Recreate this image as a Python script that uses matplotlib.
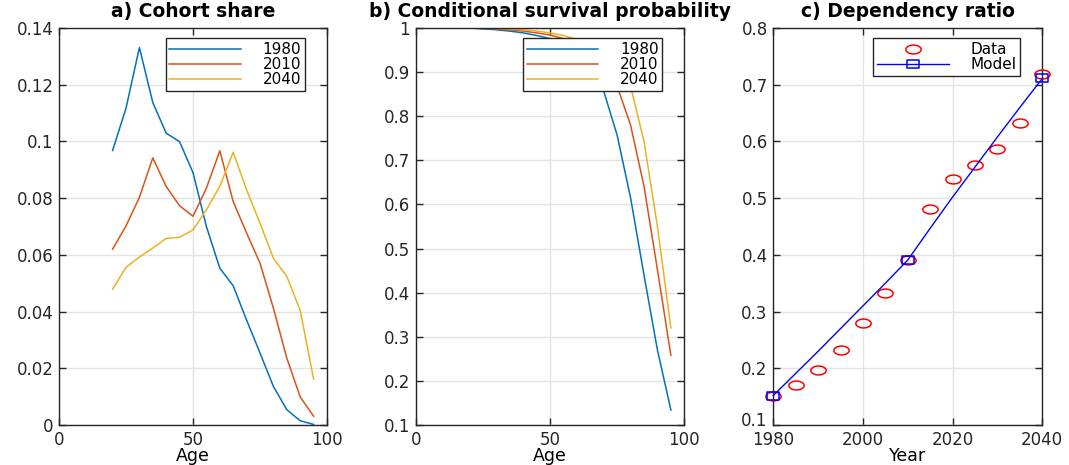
import numpy as np
import matplotlib
matplotlib.use("Agg")
import matplotlib.pyplot as plt
from matplotlib.path import Path
from matplotlib.transforms import ScaledTranslation


# ---------------------------------------------------------
#  Data
# ---------------------------------------------------------
ages = [20, 25, 30, 35, 40, 45, 50, 55, 60, 65, 70, 75, 80, 85, 90, 95]
cohort_labels = ["1980", "2010", "2040"]

share_1980 = [0.0968, 0.1117, 0.1331, 0.1137, 0.1029, 0.0999, 0.0890, 0.0700,
              0.0553, 0.0491, 0.0370, 0.0254, 0.0136, 0.0054, 0.0015, 0.0002]
share_2010 = [0.0620, 0.0702, 0.0803, 0.0942, 0.0841, 0.0773, 0.0736, 0.0835,
              0.0967, 0.0788, 0.0677, 0.0571, 0.0412, 0.0236, 0.0099, 0.0031]
share_2040 = [0.0479, 0.0556, 0.0592, 0.0624, 0.0658, 0.0662, 0.0688, 0.0759,
              0.0841, 0.0962, 0.0829, 0.0712, 0.0588, 0.0524, 0.0404, 0.0162]

surv_1980 = [1.000, 0.998, 0.996, 0.993, 0.989, 0.983, 0.976, 0.965,
             0.945, 0.910, 0.857, 0.757, 0.615, 0.440, 0.270, 0.134]
surv_2010 = [1.000, 0.999, 0.998, 0.996, 0.993, 0.989, 0.984, 0.976,
             0.963, 0.943, 0.910, 0.868, 0.780, 0.641, 0.452, 0.258]
surv_2040 = [1.000, 1.000, 0.999, 0.998, 0.996, 0.993, 0.989, 0.983,
             0.974, 0.960, 0.940, 0.910, 0.868, 0.743, 0.550, 0.320]

years = [1980, 1985, 1990, 1995, 2000, 2005, 2010, 2015, 2020, 2025, 2030, 2035, 2040]
dep_data = [0.152, 0.170, 0.197, 0.233, 0.280, 0.333, 0.391, 0.480, 0.533,
            0.559, 0.587, 0.633, 0.719]
dep_model = [0.152, 0.191, 0.230, 0.270, 0.310, 0.350, 0.391, 0.447, 0.502,
             0.555, 0.608, 0.660, 0.711]
model_marker_years = [1980, 2010, 2040]

# MATLAB default colour order
colors = ["#0072BD", "#D95319", "#EDB120"]

plt.rcParams["font.family"] = ["DejaVu Sans"]
plt.rcParams["font.size"] = 12


# squashed markers (the reference is stretched horizontally)
t = np.linspace(0, 2 * np.pi, 60)
ellipse = Path(np.column_stack([np.cos(t), 0.58 * np.sin(t)]), closed=True)
rect = Path([(-1, -0.6), (1, -0.6), (1, 0.6), (-1, 0.6), (-1, -0.6)], closed=True)


def matlab_axes(ax):
    ax.grid(True, color="#e3e3e3", linewidth=1.0)
    ax.set_axisbelow(True)
    ax.tick_params(direction="in", length=5, width=1, top=True, right=True,
                   colors="#262626", labelcolor="#262626", labelsize=12, pad=4)
    for s in ax.spines.values():
        s.set_color("#262626")
        s.set_linewidth(1.0)


def fmt_ticks(ax, yt):
    ax.set_yticks(yt)
    ax.set_yticklabels(["%g" % v for v in yt])


fig = plt.figure(figsize=(10.69, 4.65), dpi=100)
W, H = 1069.0, 465.0
bottom = (H - 425) / H
height = 397 / H
ax1 = fig.add_axes([59 / W, bottom, 268 / W, height])
ax2 = fig.add_axes([415.7 / W, bottom, 268.6 / W, height])
ax3 = fig.add_axes([773.3 / W, bottom, 269 / W, height])

leg_kw = dict(fancybox=False, edgecolor="#262626", framealpha=1.0,
              borderaxespad=0, fontsize=11, handlelength=4.7,
              borderpad=0.25, labelspacing=0.0, handletextpad=1.4)
title_kw = dict(fontsize=13.5, fontweight="bold", pad=8)
xlab_kw = dict(fontsize=12.5, labelpad=-1)

# a) Cohort share
for ser, c, lab in zip([share_1980, share_2010, share_2040], colors, cohort_labels):
    ax1.plot(ages, ser, color=c, linewidth=1.1, label=lab)
ax1.set_xlim(0, 100)
ax1.set_ylim(0, 0.14)
ax1.set_xticks([0, 50, 100])
fmt_ticks(ax1, np.round(np.arange(0, 0.141, 0.02), 2))
ax1.set_xlabel("Age", **xlab_kw)
ax1.set_title("a) Cohort share", **title_kw)
matlab_axes(ax1)
lg = ax1.legend(loc="upper right", bbox_to_anchor=(0.918, 0.974), **leg_kw)
lg.get_frame().set_linewidth(1.0)

# b) Conditional survival probability
for ser, c, lab in zip([surv_1980, surv_2010, surv_2040], colors, cohort_labels):
    ax2.plot(ages, ser, color=c, linewidth=1.1, label=lab)
ax2.set_xlim(0, 100)
ax2.set_ylim(0.1, 1)
ax2.set_xticks([0, 50, 100])
fmt_ticks(ax2, np.round(np.arange(0.1, 1.01, 0.1), 1))
ax2.set_xlabel("Age", **xlab_kw)
ax2.set_title("b) Conditional survival probability", **title_kw)
matlab_axes(ax2)
lg = ax2.legend(loc="upper right", bbox_to_anchor=(0.918, 0.974), **leg_kw)
lg.get_frame().set_linewidth(1.0)

# c) Dependency ratio
ax3.plot(years, dep_data, linestyle="none", marker=ellipse, markersize=11,
         markerfacecolor="none", markeredgecolor="red", markeredgewidth=1.1,
         label="Data", clip_on=False, zorder=3)
mk_idx = [years.index(y) for y in model_marker_years]
ax3.plot(years, dep_model, color="blue", linewidth=1.0, marker=rect,
         markersize=8.5, markevery=mk_idx, markerfacecolor="none",
         markeredgecolor="blue", markeredgewidth=1.1, label="Model",
         clip_on=False, zorder=4)
ax3.set_xlim(1980, 2040)
ax3.set_ylim(0.1, 0.8)
ax3.set_xticks([1980, 2000, 2020, 2040])
fmt_ticks(ax3, np.round(np.arange(0.1, 0.81, 0.1), 1))
ax3.set_xlabel("Year", **xlab_kw)
ax3.set_title("c) Dependency ratio", **title_kw)
matlab_axes(ax3)
# lift the lowest y label a little so it clears "1980"
lab0 = ax3.get_yticklabels()[0]
lab0.set_transform(lab0.get_transform() + ScaledTranslation(0, 4 / 72, fig.dpi_scale_trans))
lg = ax3.legend(loc="upper right", bbox_to_anchor=(0.917, 0.974),
                numpoints=1, **leg_kw)
lg.get_frame().set_linewidth(1.0)

fig.savefig("out.png", dpi=100)
